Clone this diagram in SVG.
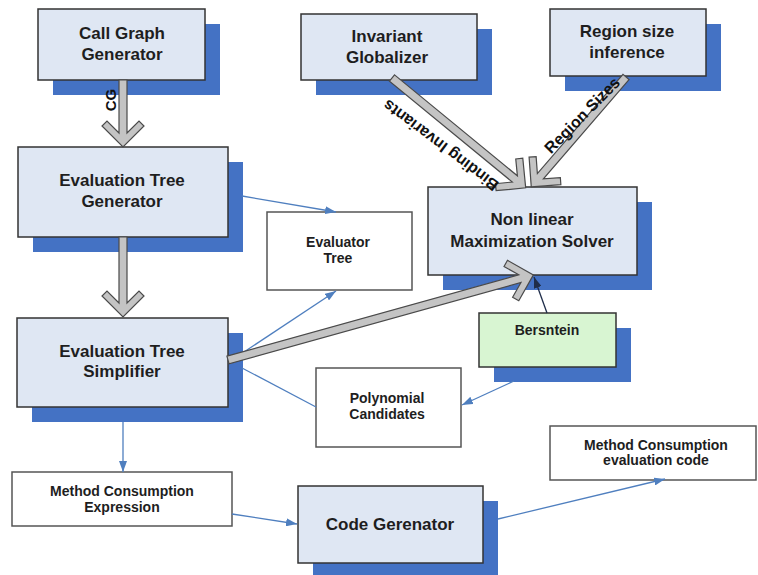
<svg xmlns="http://www.w3.org/2000/svg" width="758" height="575" viewBox="0 0 758 575">
  <style>
    .sh { fill: #4472c4; }
    .box { fill: #dfe7f3; stroke: #333; stroke-width: 1.5; }
    .wbox { fill: #ffffff; stroke: #555; stroke-width: 1.5; }
    .gbox { fill: #d8f5d2; stroke: #333; stroke-width: 1.5; }
    text { font-family: "Liberation Sans", Arial, sans-serif; font-weight: bold; fill: #1e1e1e; text-anchor: middle; }
    .big { font-size: 17px; }
    .mid { font-size: 14px; }
    .lbl { font-size: 16px; fill: #111; }
    .block { fill: #c4c4c4; stroke: #4a4a4a; stroke-width: 1.2; stroke-linejoin: miter; }
    .thin { fill: none; stroke: #4f7fbf; stroke-width: 1.3; }
    .dark { fill: none; stroke: #1f2d4a; stroke-width: 1.3; }
  </style>
  <defs>
    <marker id="ah" markerUnits="userSpaceOnUse" markerWidth="11" markerHeight="8" refX="11" refY="4" orient="auto">
      <path d="M0,0 L11,4 L0,8 Z" fill="#4f7fbf"/>
    </marker>
    <marker id="ahd" markerUnits="userSpaceOnUse" markerWidth="11" markerHeight="8" refX="11" refY="4" orient="auto">
      <path d="M0,0 L11,4 L0,8 Z" fill="#1f2d4a"/>
    </marker>
  </defs>

  <rect width="758" height="575" fill="#ffffff"/>

  <!-- process nodes (with drop shadows) -->
  <g id="call-graph-generator">
    <rect class="sh" x="53" y="24" width="167" height="71"/>
    <rect class="box" x="38" y="9" width="167" height="71"/>
    <text class="big" x="122" y="39">Call Graph</text>
    <text class="big" x="122" y="60">Generator</text>
  </g>

  <g id="evaluation-tree-generator">
    <rect class="sh" x="33" y="162" width="210" height="90"/>
    <rect class="box" x="18" y="147" width="210" height="90"/>
    <text class="big" x="122" y="186">Evaluation Tree</text>
    <text class="big" x="122" y="207">Generator</text>
  </g>

  <g id="evaluation-tree-simplifier">
    <rect class="sh" x="32" y="333" width="211" height="89"/>
    <rect class="box" x="17" y="318" width="211" height="89"/>
    <text class="big" x="122" y="357">Evaluation Tree</text>
    <text class="big" x="122" y="377">Simplifier</text>
  </g>

  <g id="invariant-globalizer">
    <rect class="sh" x="316" y="29" width="176" height="66"/>
    <rect class="box" x="301" y="14" width="176" height="66"/>
    <text class="big" x="387" y="42">Invariant</text>
    <text class="big" x="387" y="63">Globalizer</text>
  </g>

  <g id="region-size-inference">
    <rect class="sh" x="565" y="24" width="156" height="67"/>
    <rect class="box" x="550" y="9" width="156" height="67"/>
    <text class="big" x="627" y="37">Region size</text>
    <text class="big" x="627" y="58">inference</text>
  </g>

  <g id="maximization-solver">
    <rect class="sh" x="443" y="202" width="209" height="88"/>
    <rect class="box" x="428" y="187" width="209" height="88"/>
    <text class="big" x="532" y="225">Non linear</text>
    <text class="big" x="532" y="247">Maximization Solver</text>
  </g>

  <g id="bersntein">
    <rect class="sh" x="494" y="328" width="137" height="54"/>
    <rect class="gbox" x="479" y="313" width="137" height="54"/>
    <text class="mid" x="547" y="335">Bersntein</text>
  </g>

  <g id="code-generator">
    <rect class="sh" x="313" y="501" width="185" height="77"/>
    <rect class="box" x="298" y="486" width="185" height="77"/>
    <text class="big" x="390" y="530">Code Gerenator</text>
  </g>

  <!-- data nodes -->
  <g id="evaluator-tree">
    <rect class="wbox" x="267" y="212" width="145" height="78"/>
    <text class="mid" x="338" y="247">Evaluator</text>
    <text class="mid" x="338" y="263">Tree</text>
  </g>

  <g id="polynomial-candidates">
    <rect class="wbox" x="316" y="368" width="145" height="79"/>
    <text class="mid" x="387" y="403">Polynomial</text>
    <text class="mid" x="387" y="419">Candidates</text>
  </g>

  <g id="method-consumption-expression">
    <rect class="wbox" x="12" y="472" width="220" height="54"/>
    <text class="mid" x="122" y="496">Method Consumption</text>
    <text class="mid" x="122" y="512">Expression</text>
  </g>

  <g id="method-consumption-evaluation-code">
    <rect class="wbox" x="550" y="426" width="206" height="54"/>
    <text class="mid" x="656" y="450">Method Consumption</text>
    <text class="mid" x="656" y="465">evaluation code</text>
  </g>

  <!-- connectors -->
  <g id="connectors">
    <!-- thin data-flow lines -->
    <line class="thin" x1="242" y1="196" x2="336" y2="212" marker-end="url(#ah)"/>
    <line class="thin" x1="241" y1="354" x2="336" y2="291" marker-end="url(#ah)"/>
    <line class="thin" x1="242" y1="368" x2="316" y2="407"/>
    <line class="thin" x1="514" y1="381" x2="462" y2="405" marker-end="url(#ah)"/>
    <line class="thin" x1="123" y1="422" x2="123" y2="472" marker-end="url(#ah)"/>
    <line class="thin" x1="232" y1="514" x2="297" y2="524" marker-end="url(#ah)"/>
    <line class="thin" x1="498" y1="519" x2="665" y2="479" marker-end="url(#ah)"/>

    <!-- block arrows, drawn along +x then placed -->
    <path class="block" transform="translate(123,80) rotate(90)" d="M0,-4 H53 L41,-16 L46,-21 L67,0 L46,21 L41,16 L53,4 H0 Z"/>
    <path class="block" transform="translate(123,237) rotate(90)" d="M0,-4 H66 L54,-16 L59,-21 L80,0 L59,21 L54,16 L66,4 H0 Z"/>
    <path class="block" transform="translate(228,360) rotate(-15.57)" d="M0,-4 H303 L291,-16 L296,-21 L317,0 L296,21 L291,16 L303,4 H0 Z"/>
    <path class="block" transform="translate(392,78) rotate(39.4)" d="M0,-4 H159 L147,-16 L152,-21 L173,0 L152,21 L147,16 L159,4 H0 Z"/>
    <path class="block" transform="translate(626,77) rotate(130.8)" d="M0,-4 H131 L119,-16 L124,-21 L145,0 L124,21 L119,16 L131,4 H0 Z"/>

    <line class="dark" x1="547" y1="313" x2="534" y2="277" marker-end="url(#ahd)"/>

    <!-- block arrow labels -->
    <text class="lbl" transform="translate(116,100) rotate(-90)" x="0" y="0" style="font-size:15px">CG</text>
    <text class="lbl" transform="translate(444,141) rotate(217)" x="0" y="0">Binding Invariants</text>
    <text class="lbl" transform="translate(586,119) rotate(-45.4)" x="0" y="0">Region Sizes</text>
  </g>
</svg>
